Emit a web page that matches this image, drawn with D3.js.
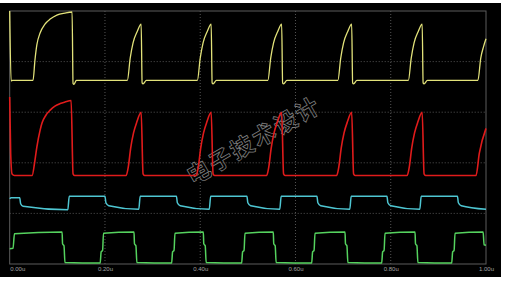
<!DOCTYPE html>
<html>
<head>
<meta charset="utf-8">
<script src="https://cdn.jsdelivr.net/npm/d3@7"></script>
<style>
body { margin: 0; background: #fff; }
svg { display: block; }
</style>
</head>
<body>
<svg id="chart"></svg>
<script>
var svgWidth = 505;
var svgHeight = 283;

// time in u, level in divisions (0 = bottom, 5 = top)
var timeTicks = [0, 0.2, 0.4, 0.6, 0.8, 1.0];
var tickLabels = ['0.00u', '0.20u', '0.40u', '0.60u', '0.80u', '1.00u'];
var levelTicks = [1, 2, 3, 4];

var yellowT = [0, 0.003, 0.006, 0.049, 0.053, 0.057, 0.064, 0.074, 0.085, 0.099, 0.116, 0.131, 0.133, 0.135, 0.140,
	0.247, 0.253, 0.259, 0.268, 0.276, 0.278, 0.280, 0.287,
	0.394, 0.400, 0.406, 0.415, 0.423, 0.425, 0.427, 0.434,
	0.542, 0.548, 0.554, 0.563, 0.571, 0.573, 0.575, 0.582,
	0.689, 0.695, 0.701, 0.710, 0.718, 0.720, 0.722, 0.729,
	0.837, 0.843, 0.849, 0.858, 0.866, 0.868, 0.870, 0.877,
	0.983, 0.989, 0.995, 1.0];
var yellowV = [5.0, 3.62, 3.63, 3.63, 4.03, 4.33, 4.57, 4.74, 4.84, 4.92, 4.96, 4.98, 3.57, 3.55, 3.63,
	3.63, 4.07, 4.37, 4.60, 4.74, 3.58, 3.56, 3.63,
	3.63, 4.07, 4.37, 4.60, 4.74, 3.58, 3.56, 3.63,
	3.63, 4.07, 4.37, 4.60, 4.74, 3.58, 3.56, 3.63,
	3.63, 4.07, 4.37, 4.60, 4.74, 3.58, 3.56, 3.63,
	3.63, 4.07, 4.37, 4.60, 4.74, 3.58, 3.56, 3.63,
	3.63, 4.07, 4.30, 4.45];

var redT = [0, 0.002, 0.005, 0.010, 0.047, 0.053, 0.057, 0.064, 0.068, 0.076, 0.085, 0.095, 0.106, 0.116, 0.129, 0.133, 0.136,
	0.2445, 0.249, 0.254, 0.260, 0.267, 0.276, 0.280, 0.283,
	0.3915, 0.396, 0.401, 0.407, 0.414, 0.423, 0.427, 0.430,
	0.5395, 0.544, 0.549, 0.555, 0.562, 0.571, 0.575, 0.578,
	0.6865, 0.691, 0.696, 0.702, 0.709, 0.718, 0.722, 0.725,
	0.8345, 0.839, 0.844, 0.850, 0.857, 0.866, 0.870, 0.873,
	0.979, 0.986, 1.0];
var redV = [3.30, 2.2, 1.78, 1.75, 1.75, 2.05, 2.31, 2.65, 2.79, 2.94, 3.04, 3.12, 3.17, 3.20, 3.23, 1.78, 1.75,
	1.75, 1.92, 2.29, 2.59, 2.81, 3.00, 1.78, 1.75,
	1.75, 1.92, 2.29, 2.59, 2.81, 3.00, 1.78, 1.75,
	1.75, 1.92, 2.29, 2.59, 2.81, 3.00, 1.78, 1.75,
	1.75, 1.92, 2.29, 2.59, 2.81, 3.00, 1.78, 1.75,
	1.75, 1.92, 2.29, 2.59, 2.81, 3.00, 1.78, 1.75,
	1.75, 2.19, 2.68];

var cyanT = [0, 0.003, 0.021, 0.023, 0.028, 0.122, 0.125,
	0.200, 0.202, 0.208, 0.271, 0.274,
	0.350, 0.352, 0.358, 0.419, 0.422,
	0.498, 0.500, 0.506, 0.567, 0.570,
	0.645, 0.647, 0.653, 0.714, 0.717,
	0.792, 0.794, 0.800, 0.861, 0.864,
	0.940, 0.942, 0.948, 1.0];
var cyanV = [1.29, 1.31, 1.31, 1.19, 1.14, 1.07, 1.34,
	1.34, 1.21, 1.15, 1.08, 1.34,
	1.34, 1.21, 1.15, 1.08, 1.34,
	1.34, 1.21, 1.15, 1.08, 1.34,
	1.34, 1.21, 1.15, 1.08, 1.34,
	1.34, 1.21, 1.15, 1.08, 1.34,
	1.34, 1.21, 1.15, 1.08];

var greenT = [0, 0.007, 0.010, 0.110, 0.111, 0.114, 0.116,
	0.190, 0.192, 0.195, 0.197, 0.261, 0.262, 0.265, 0.267,
	0.340, 0.342, 0.345, 0.347, 0.4065, 0.4075, 0.4105, 0.4125,
	0.487, 0.489, 0.492, 0.494, 0.5534, 0.5544, 0.5574, 0.5594,
	0.634, 0.636, 0.639, 0.641, 0.704, 0.705, 0.708, 0.710,
	0.781, 0.783, 0.786, 0.788, 0.851, 0.852, 0.855, 0.857,
	0.928, 0.930, 0.933, 0.935, 0.994, 0.996, 1.0];
var greenV = [0.30, 0.31, 0.60, 0.63, 0.40, 0.36, 0.03,
	0.02, 0.24, 0.27, 0.61, 0.63, 0.40, 0.36, 0.03,
	0.02, 0.24, 0.27, 0.61, 0.63, 0.40, 0.36, 0.03,
	0.02, 0.24, 0.27, 0.61, 0.63, 0.40, 0.36, 0.03,
	0.02, 0.24, 0.27, 0.61, 0.63, 0.40, 0.36, 0.03,
	0.02, 0.24, 0.27, 0.61, 0.63, 0.40, 0.36, 0.03,
	0.02, 0.24, 0.27, 0.61, 0.63, 0.38, 0.37];

var traces = [
	{t: yellowT, v: yellowV, color: '#e2e27a', width: 1.3},
	{t: redT, v: redV, color: '#e01b1b', width: 1.6},
	{t: cyanT, v: cyanV, color: '#4ec6d2', width: 1.5},
	{t: greenT, v: greenV, color: '#55d25e', width: 1.5}
];

var plotLeft = 9.7, plotRight = 486, plotTop = 11, plotBottom = 264;

var xScale = d3.scaleLinear().domain([0, 1]).range([plotLeft, plotRight]);
var yScale = d3.scaleLinear().domain([0, 5]).range([plotBottom, plotTop]);

var svg = d3.select('#chart')
	.attr('width', svgWidth)
	.attr('height', svgHeight);

svg.append('rect')
	.attr('x', 0).attr('y', 3)
	.attr('width', 501).attr('height', 274)
	.attr('fill', '#000');

// grid
svg.append('g')
	.selectAll('line')
	.data(timeTicks.slice(1, -1))
	.enter()
	.append('line')
	.attr('x1', d => xScale(d)).attr('x2', d => xScale(d))
	.attr('y1', plotTop).attr('y2', plotBottom)
	.attr('stroke', '#6a6a6a')
	.attr('stroke-width', 0.8)
	.attr('stroke-dasharray', '1,2');
svg.append('g')
	.selectAll('line')
	.data(levelTicks)
	.enter()
	.append('line')
	.attr('x1', plotLeft).attr('x2', plotRight)
	.attr('y1', d => yScale(d)).attr('y2', d => yScale(d))
	.attr('stroke', '#6a6a6a')
	.attr('stroke-width', 0.8)
	.attr('stroke-dasharray', '1,2');

svg.append('rect')
	.attr('x', plotLeft).attr('y', plotTop)
	.attr('width', plotRight - plotLeft).attr('height', plotBottom - plotTop)
	.attr('fill', 'none')
	.attr('stroke', '#5c5c5c')
	.attr('stroke-width', 1);

// watermark
svg.append('text')
	.attr('transform', 'translate(253,139) rotate(-30)')
	.attr('text-anchor', 'middle')
	.attr('dominant-baseline', 'central')
	.attr('font-family', '"Noto Sans CJK SC"')
	.attr('font-size', 23)
	.attr('font-weight', 'bold')
	.attr('letter-spacing', 2)
	.attr('fill', 'none')
	.attr('stroke', '#7e7e7e')
	.attr('stroke-width', 0.8)
	.text('电子技术设计');

var line = d3.line()
	.x(d => xScale(d[0]))
	.y(d => yScale(d[1]))
	.curve(d3.curveMonotoneX);

svg.append('g')
	.selectAll('path')
	.data(traces)
	.enter()
	.append('path')
	.attr('d', d => line(d.t.map((t, i) => [t, d.v[i]])))
	.attr('fill', 'none')
	.attr('stroke', d => d.color)
	.attr('stroke-width', d => d.width)
	.attr('stroke-linejoin', 'round');

// time labels
var xAxis = d3.axisBottom(xScale)
	.tickValues(timeTicks)
	.tickFormat((d, i) => tickLabels[i])
	.tickSize(0)
	.tickPadding(3);
var axisG = svg.append('g')
	.attr('transform', `translate(0,${plotBottom})`)
	.call(xAxis);
axisG.select('.domain').remove();
axisG.selectAll('text')
	.attr('fill', '#a0a0a0')
	.attr('font-family', 'Arial, "Liberation Sans", sans-serif')
	.attr('font-size', 6)
	.attr('text-anchor', (d, i) => i === 0 ? 'start' : 'middle');
</script>
</body>
</html>
